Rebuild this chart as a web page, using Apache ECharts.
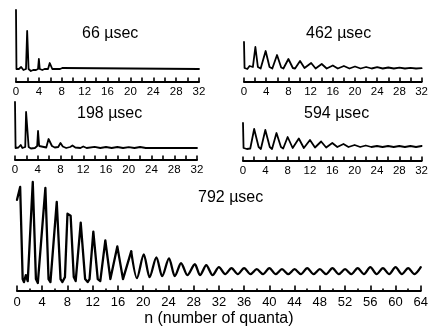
<!DOCTYPE html>
<html>
<head>
<meta charset="utf-8">
<script src="https://cdn.jsdelivr.net/npm/echarts@6/dist/echarts.min.js"></script>
<style>html,body{margin:0;padding:0;background:#fff}#c{width:431px;height:328px}</style>
</head>
<body>
<div id="c"></div>
<script>
// Panel labels
const panelTitles = ['66 µsec', '462 µsec', '198 µsec', '594 µsec', '792 µsec'];
const axisTitle = 'n (number of quanta)';
const smallTickLabels = [0, 4, 8, 12, 16, 20, 24, 28, 32];
const bigTickLabels = [0, 4, 8, 12, 16, 20, 24, 28, 32, 36, 40, 44, 48, 52, 56, 60, 64];

// 66 µsec
const n66 = [0, 0.08, 0.5, 0.9, 1.3, 1.75, 1.95, 2.05, 2.2, 2.6, 3.0, 3.5, 3.85, 4.0, 4.15, 4.6, 5.0, 5.6, 5.9, 6.1, 6.35, 7.0, 7.7, 7.9, 8.1, 8.3, 32];
const v66 = [72, 13, 13, 15, 12, 13, 51, 50, 13, 11, 12, 12, 13, 23, 13, 12, 13, 13, 19, 20, 13, 13, 13, 14.5, 14, 13, 13];

// 462 µsec
const n462 = [0, 0.1, 0.6, 1.0, 1.3, 1.6, 2.05, 2.5, 3.0, 3.9, 4.6, 5.1, 5.95, 6.7, 7.1, 8.0, 8.8, 9.2, 10.1, 10.9, 11.2, 12.1, 12.9, 14, 14.9, 16, 16.9, 18, 19, 20, 21, 22, 23, 24, 25, 26, 27, 28, 29, 30, 31, 32];
const v462 = [40, 14, 13, 16, 14, 15, 35, 15, 13.5, 31, 15, 13.5, 27, 14.5, 13.5, 23, 14, 13.5, 21, 14, 13.5, 19, 13.5, 18, 13.5, 16.5, 13.5, 16, 13.5, 15.5, 13.5, 15, 13.5, 14.8, 13.5, 14.5, 13.5, 14.3, 13.5, 14.2, 13.5, 13.8];

// 198 µsec
const n198 = [0, 0.1, 0.6, 1.0, 1.3, 1.8, 1.95, 2.2, 2.4, 2.8, 3.5, 3.9, 4.05, 4.25, 4.6, 5.5, 5.9, 6.1, 6.5, 7.0, 7.6, 8.0, 8.4, 9.0, 9.7, 10.1, 10.6, 11.5, 12.0, 12.6, 14, 15, 16, 17, 18, 19, 20, 21, 22, 23, 32];
const v198 = [58, 12, 12.5, 15, 12, 13, 48, 47, 13, 11.5, 12, 14, 29, 14, 12, 12.5, 21, 22, 14, 12.5, 13, 17, 13.5, 12, 13, 14.5, 12.5, 12, 13.5, 12, 13.2, 12, 13, 12, 13, 12, 12.8, 12, 13, 12, 12];

// 594 µsec
const n594 = [0, 0.1, 0.7, 1.0, 1.3, 2.0, 2.8, 3.2, 4.0, 4.8, 5.2, 6.0, 6.8, 7.2, 8.0, 8.9, 10.0, 10.9, 12.0, 12.9, 14.0, 14.9, 16.0, 16.9, 18.0, 18.9, 20.0, 21.0, 22.0, 23.0, 24.0, 25.0, 26.0, 27.0, 28.0, 29.0, 30.0, 31.0, 32];
const v594 = [38, 13, 12, 14, 12.5, 32, 14, 12, 31, 14, 12, 28, 14, 12.5, 24, 13, 22.5, 13, 21, 13.5, 19.5, 13.5, 18, 14, 17, 14, 16, 14, 15.5, 14, 15, 14, 15, 14, 15, 14, 15, 14, 15];

// 792 µsec
const n792 = [0, 0.5, 0.6, 0.9, 1.1, 1.4, 1.7, 2.5, 3.0, 3.3, 3.6, 4.5, 5.0, 5.3, 5.6, 6.3, 6.9, 7.2, 7.6, 8.0, 8.2, 8.5, 9.0, 9.3, 9.6, 10.1, 10.8, 11.2, 11.5, 12.1, 12.8, 13.2, 14.0, 14.8, 15.1, 15.9, 16.8, 17.1, 18.1, 19.0, 20.1, 21.0, 22.1, 23.0, 24.1, 25.0, 26.0, 27.0, 28.2, 29.0, 30.0, 31.0, 32, 33, 34, 35, 36, 37, 38, 39, 40, 41, 42, 43, 44, 45, 46, 47, 48, 49, 50, 51, 52, 53, 54, 55, 56, 57, 58, 59, 60, 61, 62, 63, 64];
const v792 = [92, 105, 104, 12, 9, 16, 10, 110, 12, 8, 10, 104, 12, 9, 10, 90, 12, 9, 14, 78, 80, 76, 14, 10, 11, 69, 12, 9, 12, 60, 12, 10, 51, 12, 10, 45, 12, 11, 40, 13, 37, 14, 34, 15, 33, 15, 28, 16, 27, 16, 26, 16, 24, 17, 23, 17, 23, 17, 22, 17, 23, 17, 22, 17, 22, 17, 23, 17, 22, 17, 23, 17, 22, 17, 23, 17, 24, 17, 23, 17, 24, 17, 23, 17, 24];

const FONT = 'Liberation Sans, Arial, Helvetica, sans-serif';
const zip = (a, b) => a.map((x, i) => [x, b[i]]);

const grids = [
  {left: 16, right: 232, top: 10, bottom: 246},
  {left: 244, right: 4, top: 37, bottom: 246},
  {left: 15, right: 234, top: 100, bottom: 168},
  {left: 243, right: 5, top: 121, bottom: 167},
  {left: 17, right: 7, top: 180, bottom: 36}
];
const yMax = [72, 45, 60, 40, 112];

function smallX(i) {
  return {
    type: 'value', gridIndex: i, min: 0, max: 32, interval: 2,
    axisLine: {lineStyle: {color: '#000', width: 2}},
    axisTick: {inside: true, length: 4.5, lineStyle: {color: '#000', width: 1.6}},
    axisLabel: {color: '#000', fontSize: 11.5, fontFamily: FONT, margin: 4,
      formatter: v => smallTickLabels.indexOf(v) >= 0 ? String(v) : ''},
    splitLine: {show: false}
  };
}
const xAxes = [smallX(0), smallX(1), smallX(2), smallX(3), {
  type: 'value', gridIndex: 4, min: 0, max: 64, interval: 4,
  axisLine: {lineStyle: {color: '#000', width: 2}},
  axisTick: {inside: true, length: 5.5, lineStyle: {color: '#000', width: 1.6}},
  minorTick: {show: true, splitNumber: 2, length: 2.5, lineStyle: {color: '#000', width: 1.6}},
  axisLabel: {color: '#000', fontSize: 13, fontFamily: FONT, margin: 5,
    formatter: v => bigTickLabels.indexOf(v) >= 0 ? String(v) : ''},
  splitLine: {show: false},
  name: axisTitle, nameLocation: 'middle', nameGap: 20,
  nameTextStyle: {color: '#000', fontSize: 16, fontFamily: FONT}
}];
const yAxes = yMax.map((m, i) => ({type: 'value', gridIndex: i, min: 0, max: m, show: false}));

// bottom panel: sharp early spikes, rounded late ripples
const split = n792.indexOf(18.1);
const datasets = [zip(n66, v66), zip(n462, v462), zip(n198, v198), zip(n594, v594),
  zip(n792, v792).slice(0, split + 1), zip(n792, v792).slice(split)];
const series = datasets.map((d, i) => {
  const gi = Math.min(i, 4);
  return {
    type: 'line', xAxisIndex: gi, yAxisIndex: gi, data: d, showSymbol: false,
    smooth: i === 5 ? 0.3 : false, smoothMonotone: 'x',
    lineStyle: {color: '#000', width: gi === 4 ? 2.3 : 1.8, join: 'round', cap: 'round'},
    animation: false, silent: true
  };
});

const titlePos = [[82, 34], [306, 34], [77, 114], [304, 114], [198, 198]];
const graphic = panelTitles.map((t, i) => ({
  type: 'text', x: titlePos[i][0], y: titlePos[i][1],
  style: {text: t, fill: '#000', font: '16px ' + FONT, verticalAlign: 'middle', align: 'left'}
}));

const chart = echarts.init(document.getElementById('c'), null, {renderer: 'canvas'});
chart.setOption({
  animation: false,
  backgroundColor: '#fff',
  grid: grids, xAxis: xAxes, yAxis: yAxes, series: series, graphic: graphic
});
</script>
</body>
</html>
